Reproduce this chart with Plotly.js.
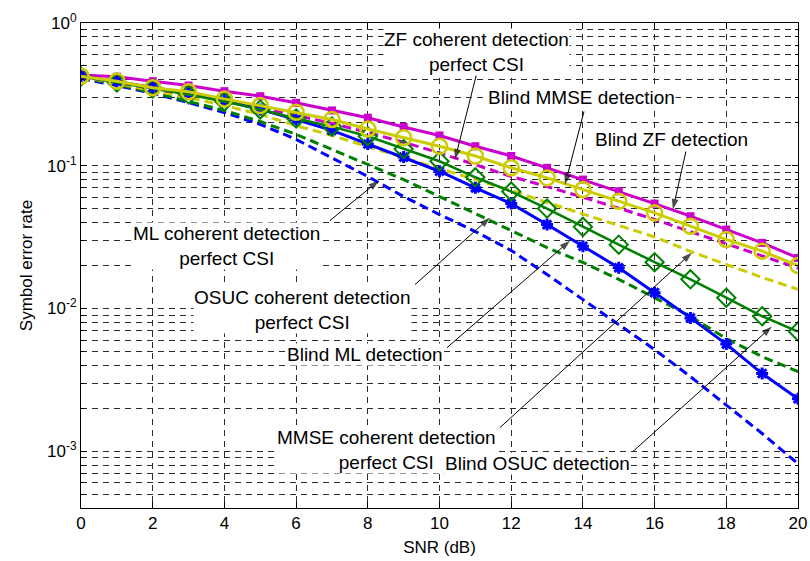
<!DOCTYPE html>
<html>
<head>
<meta charset="utf-8">
<script src="https://cdn.plot.ly/plotly-3.0.1.min.js"></script>
<style>
  html, body { margin: 0; padding: 0; background: #fff; }
  #chart { width: 810px; height: 561px; }
</style>
</head>
<body>
<div id="chart"></div>
<script>
// SNR grid (dB)
const snr = [0, 1, 2, 3, 4, 5, 6, 7, 8, 9, 10, 11, 12, 13, 14, 15, 16, 17, 18, 19, 20];

// Blind receivers (solid lines with markers)
const blindZF   = [0.432, 0.420, 0.391, 0.365, 0.333, 0.307, 0.276, 0.244, 0.217, 0.187, 0.163, 0.137, 0.117, 0.0967, 0.080, 0.0663, 0.0543, 0.0443, 0.0357, 0.0288, 0.0226];
const blindMMSE = [0.424, 0.391, 0.352, 0.330, 0.294, 0.264, 0.237, 0.211, 0.181, 0.157, 0.137, 0.117, 0.0967, 0.0822, 0.0681, 0.0564, 0.0468, 0.0377, 0.0304, 0.0252, 0.0200];
const blindOSUC = [0.422, 0.383, 0.348, 0.315, 0.282, 0.248, 0.214, 0.188, 0.161, 0.131, 0.1075, 0.083, 0.0659, 0.0501, 0.0373, 0.0280, 0.0211, 0.0160, 0.0119, 0.00882, 0.00689];
const blindML   = [0.425, 0.389, 0.353, 0.321, 0.286, 0.248, 0.211, 0.177, 0.142, 0.115, 0.0915, 0.070, 0.0543, 0.0387, 0.0273, 0.0193, 0.0129, 0.00859, 0.00563, 0.00350, 0.00233];

// Coherent receivers with perfect CSI (dashed lines)
const zfCoherent   = [0.422, 0.383, 0.348, 0.315, 0.286, 0.256, 0.225, 0.198, 0.171, 0.146, 0.123, 0.102, 0.0840, 0.0715, 0.0604, 0.0505, 0.0420, 0.0346, 0.0285, 0.0235, 0.0192];
const mmseCoherent = [0.422, 0.377, 0.336, 0.301, 0.264, 0.229, 0.191, 0.163, 0.136, 0.114, 0.0955, 0.0801, 0.0671, 0.0553, 0.0459, 0.0381, 0.0317, 0.0251, 0.0203, 0.0165, 0.0136];
const osucCoherent = [0.415, 0.371, 0.326, 0.282, 0.244, 0.204, 0.166, 0.130, 0.102, 0.0800, 0.0608, 0.0462, 0.0349, 0.0267, 0.0210, 0.0160, 0.0119, 0.00879, 0.00615, 0.00460, 0.00361];
const mlCoherent   = [0.408, 0.365, 0.321, 0.277, 0.236, 0.195, 0.153, 0.114, 0.0841, 0.0608, 0.0455, 0.0346, 0.0255, 0.0173, 0.0115, 0.00771, 0.00515, 0.00333, 0.00209, 0.00133, 0.000819];

// Axis ticks
const xTicks = [0, 2, 4, 6, 8, 10, 12, 14, 16, 18, 20];
const yTickVals = [1e-3, 1e-2, 1e-1, 1];
const yTickText = ['10<sup>-3</sup>', '10<sup>-2</sup>', '10<sup>-1</sup>', '10<sup>0</sup>'];
const yMin = 4e-4, yMax = 1;

// minor decade ticks 2..9 inside the visible range
const yMinor = [];
for (let e = -4; e < 0; e++) {
  for (let m = 2; m <= 9; m++) {
    const v = m * Math.pow(10, e);
    if (v >= yMin && v <= yMax) yMinor.push(v);
  }
}

const MAG = '#CC00CC', YEL = '#CCCC00', GRN = '#008000', BLU = '#0000FF';
const DASH = '9px,5px';

const traces = [
  { x: snr, y: mlCoherent,   mode: 'lines', line: { color: BLU, width: 3, dash: DASH } },
  { x: snr, y: osucCoherent, mode: 'lines', line: { color: GRN, width: 3, dash: DASH } },
  { x: snr, y: mmseCoherent, mode: 'lines', line: { color: YEL, width: 3, dash: DASH } },
  { x: snr, y: zfCoherent,   mode: 'lines', line: { color: MAG, width: 3, dash: DASH } },
  { x: snr, y: blindZF, mode: 'lines+markers', line: { color: MAG, width: 3 },
    marker: { symbol: 'square', size: 8, color: MAG, line: { width: 0 } } },
  { x: snr, y: blindML, mode: 'lines+markers', line: { color: BLU, width: 3 },
    marker: { symbol: 'asterisk-open', size: 10, color: BLU, line: { color: BLU, width: 3 } } },
  { x: snr, y: blindOSUC, mode: 'lines+markers', line: { color: GRN, width: 2.5 },
    marker: { symbol: 'diamond-open', size: 14, color: GRN, line: { color: GRN, width: 2 } } },
  { x: snr, y: blindMMSE, mode: 'lines+markers', line: { color: YEL, width: 3 },
    marker: { symbol: 'circle-open', size: 15, color: YEL, line: { color: YEL, width: 2.5 } } }
];

// plot-area geometry, used to turn pixel arrow offsets into axis units
const M = { l: 81, r: 12, t: 23, b: 53 };
const W = 810, H = 561;
const pxPerDb = (W - M.l - M.r) / 20;
const pxPerDecade = (H - M.t - M.b) / (Math.log10(yMax) - Math.log10(yMin));

// text labels (x in dB, y in log10 units)
const labels = [
  { t: 'ZF coherent detection<br>perfect CSI', x: 11.02, y: -0.2 },
  { t: 'Blind MMSE detection', x: 13.96, y: -0.522 },
  { t: 'Blind ZF detection', x: 16.46, y: -0.817 },
  { t: 'ML coherent detection<br>perfect CSI', x: 4.06, y: -1.563 },
  { t: 'OSUC coherent detection<br>perfect CSI', x: 6.19, y: -2.008 },
  { t: 'Blind ML detection', x: 7.92, y: -2.324 },
  { t: 'MMSE coherent detection<br>perfect CSI', x: 8.51, y: -2.989 },
  { t: 'Blind OSUC detection', x: 12.72, y: -3.088 }
];

// pointer arrows: head at (x dB, y log10), tail offset (ax, ay) in pixels
const arrows = [
  { x: 10.43, y: -0.957, ax: 22,   ay: -87 },
  { x: 13.50, y: -1.132, ax: 19,   ay: -73 },
  { x: 16.51, y: -1.307, ax: 13,   ay: -58 },
  { x: 8.31,  y: -1.104, ax: -49,  ay: 40 },
  { x: 11.41, y: -1.363, ax: -75,  ay: 67 },
  { x: 13.64, y: -1.525, ax: -123, ay: 107 },
  { x: 17.04, y: -1.609, ax: -192, ay: 175 },
  { x: 19.27, y: -2.127, ax: -139, ay: 125 }
];

arrows.forEach(a => {
  const tx = a.x + a.ax / pxPerDb;
  const ty = a.y - a.ay / pxPerDecade;
  traces.push({
    x: [tx, a.x], y: [Math.pow(10, ty), Math.pow(10, a.y)],
    mode: 'lines+markers', hoverinfo: 'skip', cliponaxis: false,
    line: { color: '#000', width: 1 },
    marker: { symbol: ['circle', 'arrow'], size: [0, 11], angleref: 'previous',
              color: '#000', line: { width: 0 } }
  });
});

const annotations = labels.map(l => ({
  text: l.t, x: l.x, y: l.y, xref: 'x', yref: 'y', showarrow: false,
  xanchor: 'center', yanchor: 'middle', align: 'center',
  font: { size: 19, color: '#000' }, bgcolor: '#fff', borderpad: 0
}));

const GRID = '#2a2a2a', GDASH = '6px,5px';

const layout = {
  width: W, height: H,
  margin: M,
  paper_bgcolor: '#fff', plot_bgcolor: '#fff',
  showlegend: false,
  font: { family: 'Liberation Sans, Arial, Helvetica, sans-serif', size: 17, color: '#000' },
  xaxis: {
    range: [0, 20], tickmode: 'array', tickvals: xTicks, ticktext: xTicks.map(String),
    showgrid: true, gridcolor: GRID, gridwidth: 1, griddash: GDASH,
    zeroline: false, showline: true, linecolor: '#000', linewidth: 1, mirror: 'ticks',
    ticks: 'inside', ticklen: 6, tickcolor: '#000', tickfont: { size: 17 },
    title: { text: 'SNR (dB)', font: { size: 17 }, standoff: 8 }
  },
  yaxis: {
    type: 'log', range: [Math.log10(yMin), Math.log10(yMax)],
    tickmode: 'array', tickvals: yTickVals, ticktext: yTickText,
    showgrid: true, gridcolor: GRID, gridwidth: 1, griddash: GDASH,
    zeroline: false, showline: true, linecolor: '#000', linewidth: 1, mirror: 'ticks',
    ticks: 'inside', ticklen: 6, tickcolor: '#000', tickfont: { size: 17 },
    minor: { tickmode: 'array', tickvals: yMinor, showgrid: true, gridcolor: GRID, gridwidth: 1,
             griddash: GDASH, ticks: 'inside', ticklen: 3, tickcolor: '#000' },
    title: { text: 'Symbol error rate', font: { size: 17 }, standoff: 10 }
  },
  annotations: annotations
};

Plotly.newPlot('chart', traces, layout, { displayModeBar: false, staticPlot: true });
</script>
</body>
</html>
